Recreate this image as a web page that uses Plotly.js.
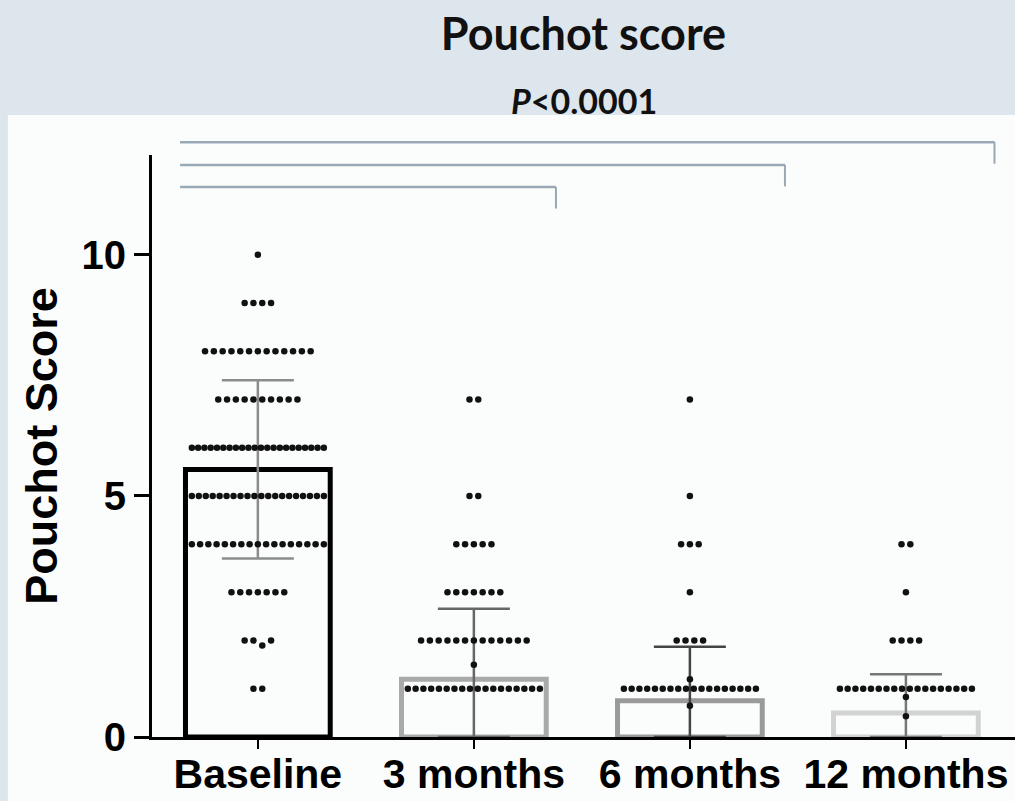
<!DOCTYPE html>
<html>
<head>
<meta charset="utf-8">
<script src="https://cdn.plot.ly/plotly-3.0.1.min.js"></script>
<style>html,body{margin:0;padding:0;background:#dfe8ee;}#chart{width:1015px;height:801px;}</style>
</head>
<body>
<div id="chart"></div>
<script>
// ---- data ----
var categories = ['Baseline', '3 months', '6 months', '12 months'];
var meanScore = [5.55, 1.2, 0.75, 0.5];
var sdScore = [1.85, 1.46, 1.12, 0.8];
var baselineScores = [10, 9,9,9,9, 8,8,8,8,8,8,8,8,8,8,8,8,8, 7,7,7,7,7,7,7,7,7,7,
  6,6,6,6,6,6,6,6,6,6,6,6,6,6,6,6,6,6,6,6,6,6,
  5,5,5,5,5,5,5,5,5,5,5,5,5,5,5,5,5,5,5,5,
  4,4,4,4,4,4,4,4,4,4,4,4,4,4,4,4,4,
  3,3,3,3,3,3,3, 2,2,1.9,2, 1,1];
var month3Scores = [7,7, 5,5, 4,4,4,4,4, 3,3,3,3,3,3,3, 2,2,2,2,2,2,2,2,2,2,2,2,2, 1.5,
  1,1,1,1,1,1,1,1,1,1,1,1,1,1,1,1,1,1];
var month6Scores = [7, 5, 4,4,4, 3, 2,2,2,2, 1.2, 1,1,1,1,1,1,1,1,1,1,1,1,1,1,1,1,1,1, 0.65];
var month12Scores = [4,4, 3, 2,2,2,2, 1,1,1,1,1,1,1,1,1,1,1,1,1,1,1,1,1,1, 0.83, 0.43];
var scoresByGroup = [baselineScores, month3Scores, month6Scores, month12Scores];
var barEdgeColors = ['#000000', '#a9a9a9', '#9a9a9a', '#d2d2d2'];
var errColors = ['#8c8c8c', '#666666', '#444444', '#777777'];
var pLabel = '<i>P</i><0.0001';
var comparisonTargets = [1, 2, 3];

// ---- dot layout (beeswarm-like rows) ----
var pxPerUnit = 216;
function dotOffsets(vals) {
  var groups = {};
  vals.forEach(function (v, i) {
    var k = Math.round(v * 4) / 4;
    (groups[k] = groups[k] || []).push(i);
  });
  var off = new Array(vals.length);
  Object.keys(groups).forEach(function (k) {
    var idx = groups[k], n = idx.length;
    var sp = n > 1 ? Math.min(8.8, 132 / (n - 1)) / pxPerUnit : 0;
    idx.forEach(function (ii, j) { off[ii] = (j - (n - 1) / 2) * sp; });
  });
  return off;
}

var traces = [];
categories.forEach(function (c, i) {
  var minus = Math.min(sdScore[i], meanScore[i]);
  traces.push({
    type: 'bar', x: [i], y: [meanScore[i]], width: 0.67,
    marker: {color: 'rgba(255,255,255,0)', line: {color: barEdgeColors[i], width: 5}},
    error_y: {type: 'data', array: [sdScore[i]], arrayminus: [minus], color: errColors[i], thickness: 2.5, width: 36},
    hoverinfo: 'skip', showlegend: false
  });
});
scoresByGroup.forEach(function (vals, i) {
  var off = dotOffsets(vals);
  traces.push({
    type: 'scatter', mode: 'markers',
    x: vals.map(function (v, j) { return i + off[j]; }), y: vals,
    marker: {color: '#111111', size: 6.5},
    showlegend: false, hoverinfo: 'y', cliponaxis: false
  });
});

// ---- comparison brackets ----
var shapes = [{
  type: 'rect', xref: 'paper', yref: 'paper', x0: -0.167, x1: 1.01, y0: -0.12, y1: 1.0687,
  fillcolor: '#fbfcfc', line: {width: 0}, layer: 'below'
}];
var bracketY = [0.945, 0.983, 1.022];
comparisonTargets.forEach(function (t, k) {
  var yTop = bracketY[k];
  var xr = t + (k === 0 ? 0.38 : (k === 1 ? 0.44 : 0.41));
  shapes.push({type: 'line', xref: 'x', yref: 'paper', x0: -0.36, x1: xr, y0: yTop, y1: yTop,
    line: {color: '#98a9b5', width: 2.5}});
  shapes.push({type: 'line', xref: 'x', yref: 'paper', x0: xr, x1: xr, y0: yTop, y1: yTop - 0.037,
    line: {color: '#98a9b5', width: 2}});
});

var layout = {
  width: 1015, height: 801,
  paper_bgcolor: '#dde6ec', plot_bgcolor: 'rgba(0,0,0,0)',
  margin: {l: 152, r: 0, t: 155, b: 64},
  barmode: 'overlay',
  title: {text: 'Pouchot score', x: 0.5, xref: 'paper', y: 0.957, yref: 'container', yanchor: 'middle',
    font: {family: 'Lato, "Open Sans", sans-serif', size: 45, color: '#111', weight: 'bold'}},
  xaxis: {
    range: [-0.49, 3.505], tickvals: [0, 1, 2, 3], ticktext: categories,
    showline: true, linecolor: '#000', linewidth: 3, ticks: 'outside', ticklen: 9, tickwidth: 2, tickcolor: '#000',
    showgrid: false, zeroline: false, ticklabelstandoff: -10,
    tickfont: {family: '"Liberation Sans", Arial, sans-serif', size: 41, color: '#000', weight: 'bold'}
  },
  yaxis: {
    range: [0, 12.07], tickvals: [0, 5, 10],
    showline: true, linecolor: '#000', linewidth: 3, ticks: 'outside', ticklen: 15, tickwidth: 3, tickcolor: '#000',
    showgrid: false, zeroline: false,
    tickfont: {family: '"Liberation Sans", Arial, sans-serif', size: 40, color: '#000', weight: 'bold'},
    title: {text: 'Pouchot Score', standoff: 10, font: {family: '"Liberation Sans", Arial, sans-serif', size: 45, color: '#000', weight: 'bold'}}
  },
  annotations: [{
    text: pLabel, xref: 'paper', yref: 'paper', x: 0.5006, y: 1.0928,
    showarrow: false, xanchor: 'center', yanchor: 'middle',
    font: {family: 'Lato, "Open Sans", sans-serif', size: 34, color: '#111', weight: 'bold'}
  }],
  shapes: shapes
};

Plotly.newPlot('chart', traces, layout, {staticPlot: true});
</script>
</body>
</html>
